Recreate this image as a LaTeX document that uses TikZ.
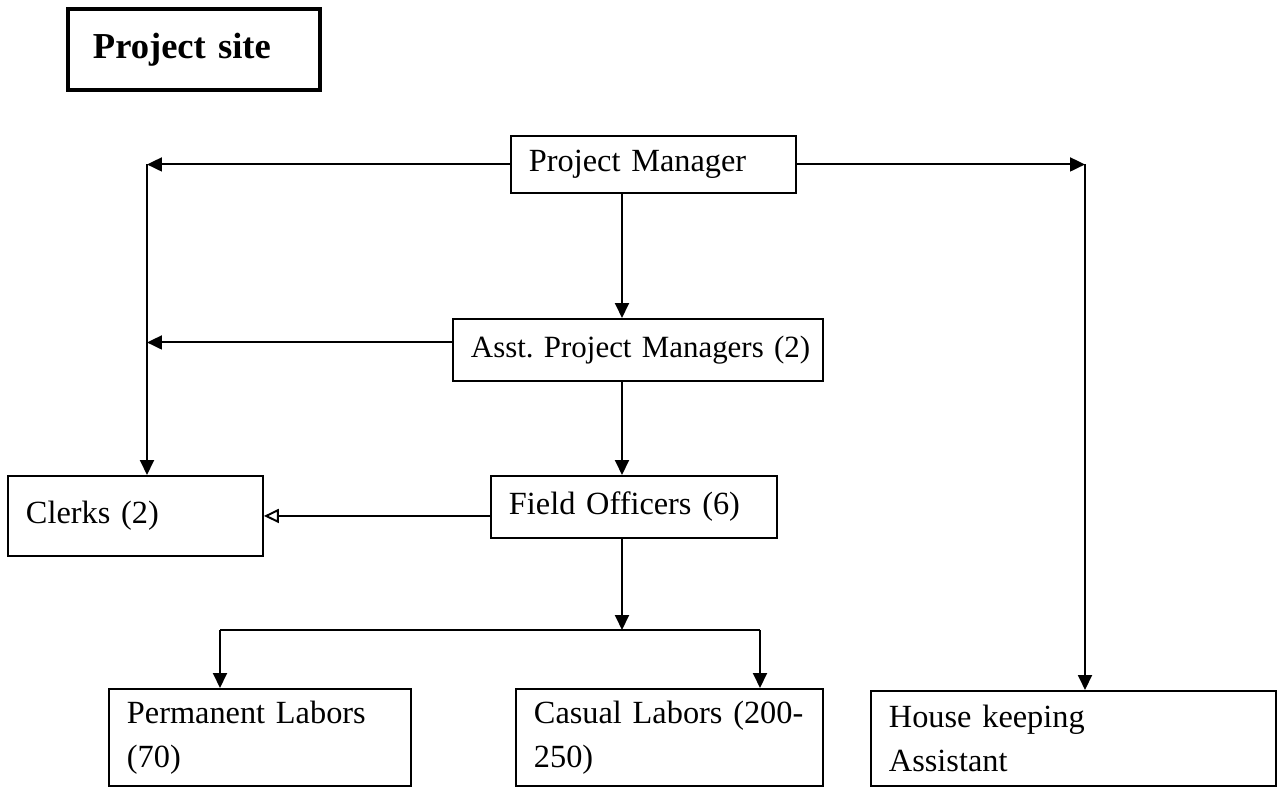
\documentclass[tikz,border=0pt]{standalone}
\usepackage{fontspec}
\setmainfont{Liberation Serif}
\usetikzlibrary{positioning, arrows.meta}

\begin{document}
\frenchspacing
\begin{tikzpicture}[
    x=0.02cm, y=-0.02cm,
    font=\fontsize{18.4}{25}\selectfont,
    % --- BOX STYLES ---
    unit/.style={rectangle, draw, line width=1.1pt, anchor=north west, align=left, inner xsep=0.36cm, inner ysep=0pt},
    title/.style={unit, line width=2.2pt, inner xsep=0.5cm, font=\fontsize{20.8}{25}\selectfont\bfseries},
    link/.style={line width=1.1pt},
    >={Triangle[length=0.3cm, width=0.28cm]}
]
\useasboundingbox (0,0) rectangle (1281,790);

% --- 1. HEADING ---
\node (site) [title, text width=4.04cm, minimum height=1.62cm] at (66,7) {Project site};

% --- 2. MANAGEMENT CHAIN ---
\node (pm) [unit, text width=4.98cm, minimum height=1.14cm] at (510,135) {Project Manager};
\node (apm) [unit, text width=6.68cm, minimum height=1.24cm, font=\fontsize{17.6}{25}\selectfont] at (452,318) {\mbox{Asst. Project Managers (2)}};
\node (fo) [unit, text width=5.0cm, minimum height=1.24cm] at (490,475) {Field Officers (6)};
\node (clerks) [unit, text width=4.38cm, minimum height=1.6cm] at (7,475) {Clerks (2)};

% --- 3. WORKERS ---
\node (perm) [unit, text width=5.32cm, minimum height=1.94cm] at (108,688) {Permanent Labors\\(70)};
\node (casual) [unit, text width=5.42cm, minimum height=1.94cm] at (515,688) {Casual Labors (200-\\250)};
\node (house) [unit, text width=7.38cm, minimum height=1.9cm] at (870,690) {House keeping\\Assistant};

% helper points for the elbows
\coordinate (lspine) at (147,165);
\coordinate (rspine) at (1085,170);
\coordinate (trunk) at (622,630);
\coordinate (pdrop) at (220,630);
\coordinate (cdrop) at (760,630);

% --- FLOWS ---

% 1. Left spine down to the clerks
\draw [->, link] (pm.west) -- (pm.west -| lspine);
\draw [->, link] ([yshift=0.15cm]apm.west) -- ([yshift=0.15cm]apm.west -| lspine);
\draw [->, link] (pm.west -| lspine) -- (clerks.north -| lspine);

% 2. Right spine down to house keeping
\draw [->, link] (pm.east) -- (pm.east -| rspine);
\draw [->, link] (pm.east -| rspine) -- (house.north -| rspine);

% 3. Main trunk
\draw [->, link] (pm.south -| trunk) -- (apm.north -| trunk);
\draw [->, link] (apm.south -| trunk) -- (fo.north -| trunk);
\draw [-{Triangle[open, length=0.3cm, width=0.28cm]}, link] (fo.west |- clerks.east) -- (clerks.east);

% 4. Split to the labour boxes
\draw [->, link] (fo.south -| trunk) -- (trunk);
\draw [link] (pdrop) -- (cdrop);
\draw [->, link] (pdrop) -- (pdrop |- perm.north);
\draw [->, link] (cdrop) -- (cdrop |- casual.north);

\end{tikzpicture}
\end{document}
